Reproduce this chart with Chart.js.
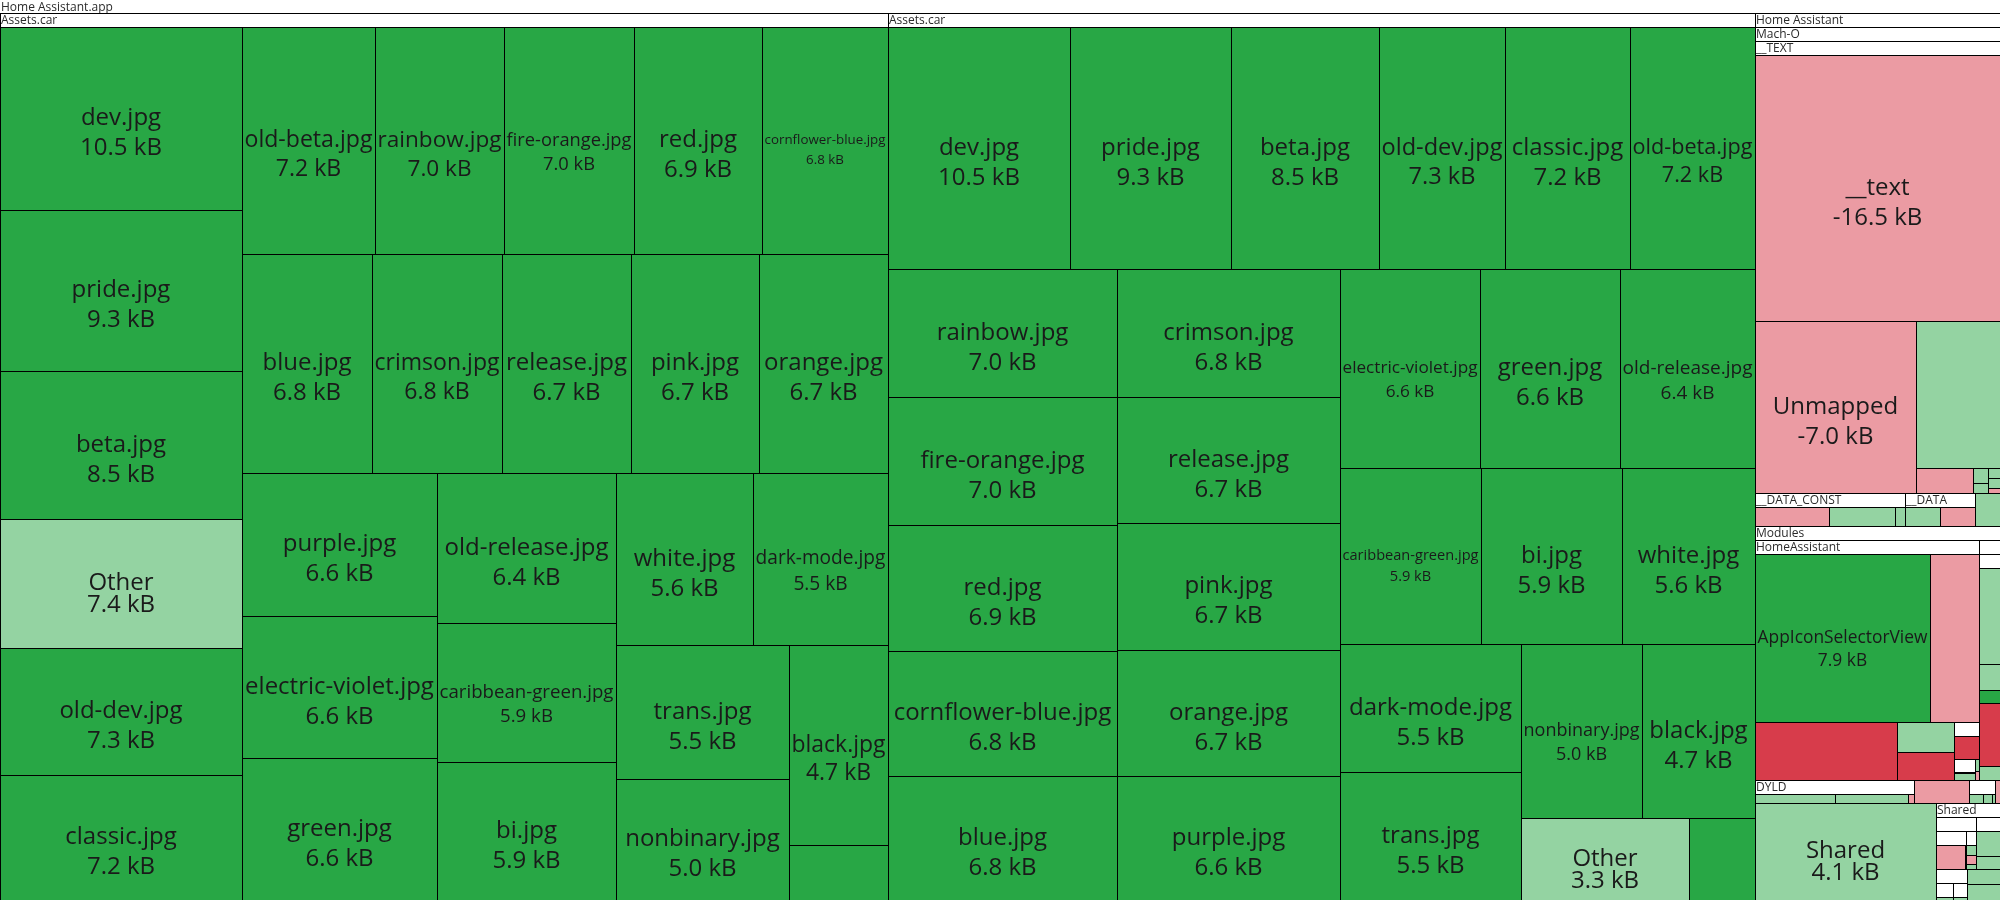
<!DOCTYPE html>
<html>
<head>
<meta charset="utf-8">
<title>Home Assistant.app size treemap</title>
<script src="https://cdn.jsdelivr.net/npm/chart.js@4.4.0/dist/chart.umd.min.js"></script>
<style>
  html, body { margin: 0; padding: 0; background: #fff; }
  #wrap { width: 2000px; height: 900px; position: relative; }
</style>
</head>
<body>
<div id="wrap"><canvas id="chart"></canvas></div>
<script>
// kinds: A = added, I = grew, D = shrank, R = removed
// first Assets.car
const carLeftNames = ['dev.jpg', 'pride.jpg', 'beta.jpg', 'Other', 'old-dev.jpg', 'classic.jpg', 'old-beta.jpg',
  'rainbow.jpg', 'fire-orange.jpg', 'red.jpg', 'cornflower-blue.jpg', 'blue.jpg', 'crimson.jpg', 'release.jpg',
  'pink.jpg', 'orange.jpg', 'purple.jpg', 'electric-violet.jpg', 'green.jpg', 'old-release.jpg',
  'caribbean-green.jpg', 'bi.jpg', 'white.jpg', 'dark-mode.jpg', 'trans.jpg', 'nonbinary.jpg', 'black.jpg', ''];
const carLeftSizes = [10.5, 9.3, 8.5, 7.4, 7.3, 7.2, 7.2, 7.0, 7.0, 6.9, 6.8, 6.8, 6.8, 6.7, 6.7, 6.7, 6.6, 6.6, 6.6,
  6.4, 5.9, 5.9, 5.6, 5.5, 5.5, 5.0, 4.7, 1.3];
const carLeftKinds = ['A', 'A', 'A', 'I', 'A', 'A', 'A', 'A', 'A', 'A', 'A', 'A', 'A', 'A', 'A', 'A', 'A', 'A', 'A',
  'A', 'A', 'A', 'A', 'A', 'A', 'A', 'A', 'A'];

// second Assets.car
const carRightNames = ['dev.jpg', 'pride.jpg', 'beta.jpg', 'old-dev.jpg', 'classic.jpg', 'old-beta.jpg',
  'rainbow.jpg', 'fire-orange.jpg', 'red.jpg', 'cornflower-blue.jpg', 'blue.jpg', 'crimson.jpg', 'release.jpg',
  'pink.jpg', 'orange.jpg', 'purple.jpg', 'electric-violet.jpg', 'green.jpg', 'old-release.jpg',
  'caribbean-green.jpg', 'bi.jpg', 'white.jpg', 'dark-mode.jpg', 'trans.jpg', 'nonbinary.jpg', 'black.jpg', 'Other', ''];
const carRightSizes = [10.5, 9.3, 8.5, 7.3, 7.2, 7.2, 7.0, 7.0, 6.9, 6.8, 6.8, 6.8, 6.7, 6.7, 6.7, 6.6, 6.6, 6.6,
  6.4, 5.9, 5.9, 5.6, 5.5, 5.5, 5.0, 4.7, 3.3, 1.3];
const carRightKinds = ['A', 'A', 'A', 'A', 'A', 'A', 'A', 'A', 'A', 'A', 'A', 'A', 'A', 'A', 'A', 'A', 'A', 'A',
  'A', 'A', 'A', 'A', 'A', 'A', 'A', 'A', 'I', 'A'];

// Home Assistant binary: Mach-O
const textNames = ['__text', 'Unmapped', '', '', '', '', '', '', ''];
const textSizes = [-16.5, -7.0, 3.1, -0.37, 0.06, 0.04, 0.03, 0.03, -0.015];
const textKinds = ['D', 'D', 'I', 'D', 'I', 'I', 'I', 'I', 'D'];
const dataConstNames = ['', '', ''];
const dataConstSizes = [-0.58, 0.52, 0.08];
const dataConstKinds = ['D', 'I', 'I'];
const dataNames = ['', ''];
const dataSizes = [0.28, -0.27];
const dataKinds = ['I', 'D'];
const machoNames = [''];
const machoSizes = [0.2];
const machoKinds = ['I'];

// Modules
const appNames = ['AppIconSelectorView', '', '', '', ''];
const appSizes = [7.9, -2.22, -2.17, 0.45, -0.43];
const appKinds = ['A', 'D', 'R', 'I', 'R'];
const appSmallNames = ['', '', '', ''];
const appSmallSizes = [-0.195, 0.053, 0.02, -0.013];
const appSmallKinds = ['R', 'I', 'I', 'D'];
const appTinyNames = [''];
const appTinySizes = [0.1];
const appTinyKinds = ['I'];
const otherModNames = ['', ''];
const otherModSizes = [-0.354, 0.079];
const otherModKinds = ['R', 'I'];
const otherModInnerNames = ['', '', ''];
const otherModInnerSizes = [0.595, 0.161, 0.081];
const otherModInnerKinds = ['I', 'I', 'A'];

// DYLD and loose bits
const dyldNames = ['', '', ''];
const dyldSizes = [0.45, 0.41, -0.03];
const dyldKinds = ['I', 'I', 'D'];
const haLooseNames = ['', ''];
const haLooseSizes = [-0.31, -0.03];
const haLooseKinds = ['D', 'D'];
const haSmallNames = ['', '', ''];
const haSmallSizes = [0.08, 0.05, 0.015];
const haSmallKinds = ['I', 'I', 'I'];

// Shared
const rootLooseNames = ['Shared'];
const rootLooseSizes = [4.1];
const rootLooseKinds = ['I'];
const sharedANames = ['', ''];
const sharedASizes = [-0.4, 0.02];
const sharedAKinds = ['D', 'I'];
const sharedBNames = ['', '', ''];
const sharedBSizes = [0.06, -0.05, 0.03];
const sharedBKinds = ['I', 'D', 'I'];
const sharedCNames = ['', ''];
const sharedCSizes = [0.22, 0.12];
const sharedCKinds = ['I', 'I'];
const sharedDNames = [''];
const sharedDSizes = [0.14];
const sharedDKinds = ['I'];
const sharedENames = [''];
const sharedESizes = [0.12];
const sharedEKinds = ['I'];
const sharedLooseNames = ['', ''];
const sharedLooseSizes = [0.14, 0.14];
const sharedLooseKinds = ['I', 'I'];

const kindColors = { A: '#28a745', I: '#94d3a2', D: '#eb9ba3', R: '#d73c4b' };
const FONT = '"Open Sans", "Noto Sans", sans-serif';
const HEADER = 14;
const ROOT_HEADER = 13;
const SQUARE_RATIO = 0.5 * (1 + Math.sqrt(5));

function leaves(names, sizes, kinds) {
  return names.map((n, i) => ({ name: n, value: sizes[i], kind: kinds[i] }));
}
function group(name, children) {
  return { name: name, children: children };
}

const tree = group('Home Assistant.app', [
  group('Assets.car', leaves(carLeftNames, carLeftSizes, carLeftKinds)),
  group('Assets.car', leaves(carRightNames, carRightSizes, carRightKinds)),
  group('Home Assistant', [
    group('Mach-O', [
      group('__TEXT', leaves(textNames, textSizes, textKinds)),
      group('__DATA_CONST', leaves(dataConstNames, dataConstSizes, dataConstKinds)),
      group('__DATA', leaves(dataNames, dataSizes, dataKinds)),
      ...leaves(machoNames, machoSizes, machoKinds)
    ]),
    group('Modules', [
      group('HomeAssistant', [
        ...leaves(appNames, appSizes, appKinds),
        group('', [
          ...leaves(appSmallNames, appSmallSizes, appSmallKinds),
          group('', leaves(appTinyNames, appTinySizes, appTinyKinds))
        ])
      ]),
      group('', [
        group('', leaves(otherModInnerNames, otherModInnerSizes, otherModInnerKinds)),
        ...leaves(otherModNames, otherModSizes, otherModKinds)
      ])
    ]),
    group('DYLD', leaves(dyldNames, dyldSizes, dyldKinds)),
    ...leaves(haLooseNames, haLooseSizes, haLooseKinds),
    group('', leaves(haSmallNames, haSmallSizes, haSmallKinds))
  ]),
  ...leaves(rootLooseNames, rootLooseSizes, rootLooseKinds),
  group('Shared', [
    group('', [
      group('', leaves(sharedANames, sharedASizes, sharedAKinds)),
      group('', leaves(sharedBNames, sharedBSizes, sharedBKinds))
    ]),
    group('', leaves(sharedCNames, sharedCSizes, sharedCKinds)),
    group('', [
      group('', leaves(sharedDNames, sharedDSizes, sharedDKinds)),
      group('', leaves(sharedENames, sharedESizes, sharedEKinds))
    ]),
    ...leaves(sharedLooseNames, sharedLooseSizes, sharedLooseKinds)
  ])
]);

function sizeOf(node) {
  if (node.children) node.size = node.children.reduce((s, c) => s + sizeOf(c), 0);
  else node.size = Math.abs(node.value);
  return node.size;
}

// squarified layout in value space (same steps as a classic squarify treemap)
function worst(row, rowArea, fixed) {
  let aMax = 0, aMin = Infinity;
  row.forEach(n => {
    if (n.area) {
      if (n.area < aMin) aMin = n.area;
      if (n.area > aMax) aMax = n.area;
    }
  });
  const sq = rowArea * rowArea;
  const f = fixed * fixed * SQUARE_RATIO;
  return sq ? Math.max(f * aMax / sq, sq / (f * aMin)) : Infinity;
}

function place(row, rowArea, fixed, rect, flush) {
  const horiz = fixed === rect.w;
  let other = fixed ? rowArea / fixed : 0;
  const span = horiz ? rect.h : rect.w;
  if (flush || other > span) other = span;
  let last = horiz ? rect.x : rect.y;
  const end = horiz ? rect.x + rect.w : rect.y + rect.h;
  row.forEach((n, i) => {
    const step = other ? n.area / other : 0;
    const remain = end - last;
    const len = (i === row.length - 1 || remain < step) ? remain : step;
    if (horiz) n.rect = { x: last, y: rect.y, w: len, h: other };
    else n.rect = { x: rect.x, y: last, w: other, h: len };
    last += len;
  });
  if (horiz) { rect.y += other; rect.h -= other; }
  else { rect.x += other; rect.w -= other; }
}

function squarify(node, upper) {
  if (!node.children) return;
  const r = node.rect;
  const inner = { x: r.x, y: r.y + upper, w: r.w, h: Math.max(r.h - upper, 0) };
  const kids = node.children.slice().sort((a, b) => b.size - a.size);
  const totalArea = inner.w * inner.h;
  kids.forEach(k => { k.area = node.size ? k.size / node.size * totalArea : 0; });
  let fixed = Math.min(inner.w, inner.h);
  let best = Infinity, row = [], rowArea = 0;
  for (let i = 0; i < kids.length;) {
    const k = kids[i];
    row.push(k);
    rowArea += k.area;
    const score = worst(row, rowArea, fixed);
    if (score <= best) {
      i++;
      best = score;
    } else {
      row.pop();
      rowArea -= k.area;
      place(row, rowArea, fixed, inner, false);
      fixed = Math.min(inner.w, inner.h);
      row = [];
      rowArea = 0;
      best = Infinity;
    }
  }
  if (row.length) place(row, rowArea, fixed, inner, true);
  kids.forEach(k => squarify(k, HEADER));
}

sizeOf(tree);
tree.rect = { x: 0, y: 0, w: 2000, h: 900 };
squarify(tree, ROOT_HEADER);

function fmt(v) {
  return (v < 0 ? '-' : '') + Math.abs(v).toFixed(1) + ' kB';
}

const treemapPlugin = {
  id: 'treemap',
  afterDatasetsDraw(chart) {
    const ctx = chart.ctx;
    const xs = chart.scales.x, ys = chart.scales.y;

    function drawNode(node, depth) {
      const r = node.rect;
      const x0 = Math.round(xs.getPixelForValue(r.x));
      const x1 = Math.round(xs.getPixelForValue(r.x + r.w));
      const y0 = Math.round(ys.getPixelForValue(r.y));
      const y1 = Math.round(ys.getPixelForValue(r.y + r.h));
      const w = x1 - x0, h = y1 - y0;
      ctx.save();
      ctx.fillStyle = node.children ? '#ffffff' : kindColors[node.kind];
      ctx.fillRect(x0, y0, w, h);
      if (depth > 0) {
        ctx.strokeStyle = '#000';
        ctx.lineWidth = 1;
        ctx.strokeRect(x0 + 0.5, y0 + 0.5, w, h);
      }
      if (node.children) {
        const hh = depth === 0 ? ROOT_HEADER : HEADER;
        if (node.name && w > 12) {
          ctx.beginPath();
          ctx.rect(x0 + 1, y0 + 1, w - 2, hh - 1);
          ctx.clip();
          ctx.fillStyle = '#2b2b2b';
          ctx.font = '12px ' + FONT;
          ctx.textBaseline = 'middle';
          ctx.textAlign = 'left';
          ctx.fillText(node.name, x0 + 1, y0 + hh / 2 + 1);
        }
        ctx.restore();
        node.children.forEach(c => drawNode(c, depth + 1));
        return;
      }
      if (node.name) {
        const line2 = fmt(node.value);
        ctx.font = '24px ' + FONT;
        const widest = Math.max(ctx.measureText(node.name).width, ctx.measureText(line2).width);
        const size = Math.min(24, 24 * (w - 5) / widest);
        if (size >= 8 && h >= 40) {
          ctx.beginPath();
          ctx.rect(x0, y0, w, h);
          ctx.clip();
          ctx.font = size.toFixed(2) + 'px ' + FONT;
          ctx.fillStyle = '#1a1a1a';
          ctx.textAlign = 'center';
          ctx.textBaseline = 'middle';
          const cx = x0 + w / 2, cy = y0 + h / 2;
          const gap = node.kind === 'I' ? size - 2 : size + 6;
          ctx.fillText(node.name, cx, cy);
          ctx.fillText(line2, cx, cy + gap);
        }
      }
      ctx.restore();
    }

    drawNode(tree, 0);
  }
};

const ctx = document.getElementById('chart').getContext('2d');
const myChart = new Chart(ctx, {
  type: 'scatter',
  data: { datasets: [{ data: [] }] },
  options: {
    responsive: true,
    maintainAspectRatio: false,
    animation: false,
    layout: { padding: 0 },
    plugins: { legend: { display: false }, tooltip: { enabled: false } },
    scales: {
      x: { type: 'linear', min: 0, max: 2000, display: false },
      y: { type: 'linear', min: 0, max: 900, reverse: true, display: false }
    }
  },
  plugins: [treemapPlugin]
});
</script>
</body>
</html>
